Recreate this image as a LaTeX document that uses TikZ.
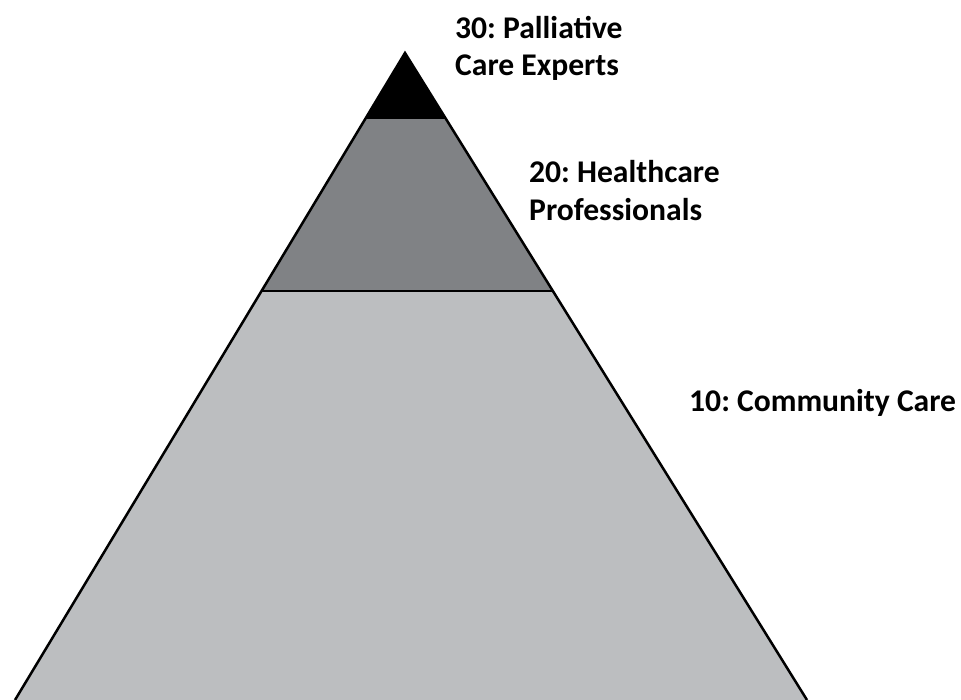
\documentclass[tikz,border=0pt]{standalone}
\usepackage{fontspec}
\setmainfont{Carlito}
\frenchspacing
\begin{document}
\begin{tikzpicture}[x=1pt,y=-1pt,
  edge/.style={line width=2.5pt, line join=miter},
  lbl/.style={anchor=base west, inner sep=0pt, font=\bfseries\fontsize{31.6}{38}\selectfont}]
\useasboundingbox (0,0) rectangle (961,700);
\coordinate (A) at (405,53);
\coordinate (L1) at (365.8,118);
\coordinate (R1) at (445.4,118);
\coordinate (L2) at (261.5,291);
\coordinate (R2) at (552.9,291);
\coordinate (L3) at (15,700);
\coordinate (R3) at (807,700);
\begin{scope}
\clip (0,0) rectangle (961,700);
\fill[fill={rgb,255:red,188;green,190;blue,192}] (L2) -- (R2) -- (R3) -- (L3) -- cycle;
\fill[fill={rgb,255:red,128;green,130;blue,133}] (L1) -- (R1) -- (R2) -- (L2) -- cycle;
\fill[black] (A) -- (R1) -- (L1) -- cycle;
\draw[edge] (L3) -- (A) -- (R3);
\draw[edge] (L1) -- (R1);
\draw[edge] (L2) -- (R2);
\end{scope}
\node[lbl] (t3a) at (455,39) {30: Palliative};
\node[lbl] (t3b) at (455,76) {Care Experts};
\node[lbl] (t2a) at (529,183) {20: Healthcare};
\node[lbl] (t2b) at (529,221) {Professionals};
\node[lbl] (t1) at (689,411) {10: Community Care};
\end{tikzpicture}
\end{document}
